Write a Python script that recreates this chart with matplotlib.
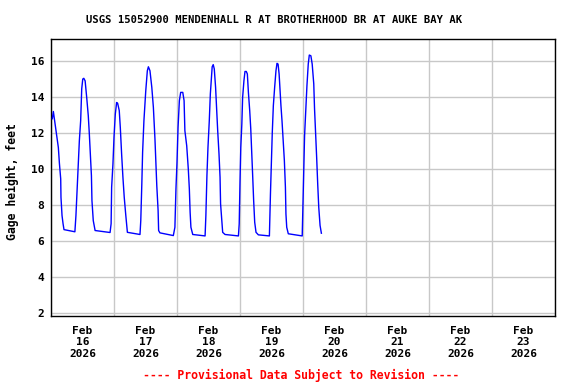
import numpy as np
import matplotlib
matplotlib.use('Agg')
import matplotlib.pyplot as plt

# hours since Feb 16 2026 00:00 and gage height (ft)
hours = [0.5, 0.9, 2.2, 2.8, 3.2, 3.7, 3.8, 4.2, 4.6, 4.95, 9.1,
         9.5, 9.9, 10.4, 10.8, 11.3, 11.7, 12.1, 12.5, 13.0, 13.6, 14.2, 14.6,
         15.0, 15.4, 15.6, 16.1, 16.8, 22.5,
         22.9, 23.1, 23.6, 24.0, 24.5, 25.0, 25.4, 26.0, 26.4, 26.9, 27.4,
         27.9, 28.5, 29.1, 33.9,
         34.2, 34.6, 34.9, 35.4, 36.1, 36.7, 37.1, 37.7, 38.4, 39.0, 39.6,
         40.3, 40.8, 41.0, 41.5, 46.6,
         47.2, 47.6, 48.0, 48.4, 48.9, 49.4, 50.2, 50.7, 51.0, 51.7, 52.3,
         52.7, 53.0, 53.3, 54.0, 58.7,
         59.0, 59.4, 59.8, 60.3, 60.7, 61.1, 61.4, 61.8, 62.2, 62.7, 63.1,
         63.5, 64.0, 64.4, 64.6, 65.1, 65.4, 66.3, 71.4,
         71.7, 72.0, 72.3, 72.7, 73.0, 73.5, 73.9, 74.4, 74.8, 75.2, 75.7,
         76.1, 76.5, 76.8, 77.2, 77.6, 78.1, 79.0, 83.2,
         83.6, 83.9, 84.3, 84.7, 85.2, 85.7, 86.1, 86.5, 86.9, 87.2, 87.6,
         88.0, 88.4, 88.9, 89.3, 89.5, 89.8, 90.4, 95.7,
         95.9, 96.3, 96.6, 97.1, 97.5, 98.0, 98.4, 99.0, 99.5, 100.1, 100.4,
         100.8, 101.2, 101.6, 102.0, 102.5, 103.0]
gage = [12.8, 13.2, 11.86, 11.2, 10.33, 9.46, 8.44, 7.43, 6.97, 6.65, 6.53,
        7.43, 8.72, 10.29, 11.58, 12.69, 14.45, 15.0, 15.04, 14.9, 13.98, 12.97, 11.96,
        10.75, 9.64, 8.26, 7.15, 6.6, 6.49,
        6.98, 9.0, 10.3, 11.77, 13.06, 13.7, 13.65, 13.25, 12.32, 10.85, 9.55,
        8.44, 7.43, 6.5, 6.38,
        7.15, 9.19, 10.94, 12.69, 14.35, 15.46, 15.68, 15.46, 14.54, 13.43, 11.68,
        9.09, 7.71, 6.6, 6.47, 6.32,
        6.78, 8.91, 10.38, 12.32, 13.8, 14.26, 14.26, 13.8, 12.14, 11.3, 10.02,
        8.91, 7.61, 6.78, 6.38, 6.3,
        7.43, 9.64, 11.21, 12.69, 14.17, 15.0, 15.68, 15.8, 15.56, 14.54, 13.34,
        12.14, 10.85, 9.55, 8.08, 7.06, 6.5, 6.38, 6.3,
        6.97, 9.28, 11.21, 12.51, 13.98, 14.91, 15.42, 15.42, 15.28, 14.26, 13.25,
        12.23, 10.85, 9.74, 8.26, 7.06, 6.5, 6.36, 6.3,
        8.63, 10.1, 12.04, 13.52, 14.54, 15.46, 15.87, 15.83, 15.28, 14.54, 13.52,
        12.69, 11.68, 10.48, 9.0, 7.52, 6.78, 6.42, 6.3,
        7.52, 9.83, 11.86, 13.34, 14.63, 15.83, 16.33, 16.29, 15.83, 14.73, 13.34,
        12.04, 10.66, 9.19, 7.89, 6.88, 6.45]

day_labels = ['Feb\n16\n2026', 'Feb\n17\n2026', 'Feb\n18\n2026', 'Feb\n19\n2026',
              'Feb\n20\n2026', 'Feb\n21\n2026', 'Feb\n22\n2026', 'Feb\n23\n2026']
yticks = [2, 4, 6, 8, 10, 12, 14, 16]

mono = 'DejaVu Sans Mono'

fig = plt.figure(figsize=(5.76, 3.84), dpi=100)
ax = fig.add_axes([51 / 576, 1 - 316 / 384, 504 / 576, 277 / 384])

days = np.array(hours) / 24.0
ax.plot(days, gage, color='#0000ff', linewidth=1.0, zorder=3)

ax.set_xlim(0, 8)
ax.set_ylim(1.86, 17.22)
ax.set_xticks(np.arange(0, 9))
ax.set_xticklabels([])
ax.set_xticks(np.arange(len(day_labels)) + 0.5, minor=True)
ax.set_xticklabels(day_labels, minor=True, fontfamily=mono, fontweight='bold',
                   fontsize=8, linespacing=1.2)
ax.set_yticks(yticks)
ax.set_yticklabels([str(v) for v in yticks], fontfamily=mono, fontweight='bold', fontsize=8)
ax.tick_params(axis='both', which='both', length=0)
ax.tick_params(axis='x', which='minor', pad=7)
ax.tick_params(axis='y', pad=5)
ax.grid(True, which='major', color='#c8c8c8', linewidth=1.0, zorder=0)
for s in ax.spines.values():
    s.set_linewidth(1.0)
    s.set_color('black')

fig.text(12 / 576, 1 - 182 / 384, 'Gage height, feet', rotation=90,
         ha='center', va='center', fontfamily=mono, fontweight='bold', fontsize=8.3)

fig.text(274.5 / 576, 1 - 20 / 384, 'USGS 15052900 MENDENHALL R AT BROTHERHOOD BR AT AUKE BAY AK',
         ha='center', va='center', fontfamily=mono, fontweight='bold', fontsize=7.6)
fig.text(301.5 / 576, 1 - 375 / 384, '---- Provisional Data Subject to Revision ----',
         ha='center', va='center', fontfamily=mono, fontweight='bold', fontsize=8.3,
         color='#ff0000')

fig.savefig('out.png', dpi=100)
